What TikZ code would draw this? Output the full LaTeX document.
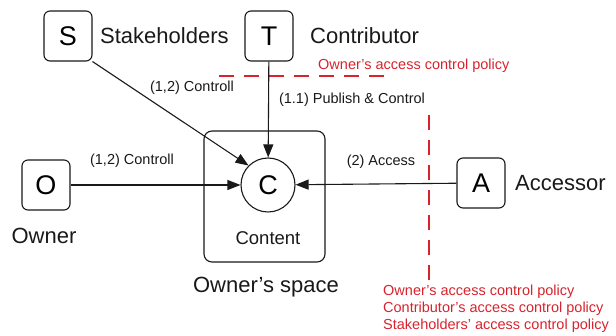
\documentclass[tikz,border=0pt]{standalone}
\usepackage{fontspec}
\setmainfont{Liberation Sans}
\usetikzlibrary{arrows.meta}
\definecolor{polred}{RGB}{215,35,45}
\definecolor{ink}{RGB}{25,25,25}
\begin{document}
\begin{tikzpicture}[x=1pt,y=-1pt,
  letterbox/.style={draw=ink, rounded corners=6pt, minimum width=48pt, minimum height=50pt, line width=1.1pt, inner sep=0pt, font=\fontsize{27}{27}\selectfont},
  bigtext/.style={text=ink, font=\fontsize{22}{24}\selectfont, inner sep=0pt},
  smalltext/.style={text=ink, font=\fontsize{14.5}{16}\selectfont, inner sep=0pt},
  redtext/.style={text=polred, font=\fontsize{14.5}{17}\selectfont, inner sep=0pt, align=left},
  conn/.style={draw=ink, line width=1.1pt, -{Triangle[length=13pt,width=10pt]}},
  policy/.style={draw=polred, line width=1.2pt, dash pattern=on 15pt off 10pt}]
\useasboundingbox (0,0) rectangle (616,336);
% actors
\node[letterbox] (S) at (68,36) {S};
\node[bigtext, anchor=west] (Slabel) at (100,36) {Stakeholders};
\node[letterbox] (T) at (269,36) {T};
\node[bigtext, anchor=west] (Tlabel) at (310,36) {Contributor};
\node[letterbox] (O) at (46,185) {O};
\node[bigtext] (Olabel) at (44,236) {Owner};
\node[letterbox] (A) at (481,183) {A};
\node[bigtext, anchor=west] (Alabel) at (515,183) {Accessor};
% owner's space
\node[draw=ink, rounded corners=8pt, line width=1.1pt, minimum width=121pt, minimum height=131pt, inner sep=0pt] (space) at (264.5,196.5) {};
\node[circle, draw=ink, fill=white, line width=1.1pt, minimum size=54pt, inner sep=0pt, font=\fontsize{27}{27}\selectfont] (C) at (268,185) {C};
\node[text=ink, font=\fontsize{18.5}{20}\selectfont, inner sep=0pt] (Clabel) at (268,238) {Content};
\node[bigtext] (spacelabel) at (266,287) {Owner’s space};
% red policies
\coordinate (h1) at (219,76);
\coordinate (h2) at (385,76);
\draw[policy] (h1) -- (h2);
\node[redtext, anchor=west] (p1) at (318,66) {Owner’s access control policy};
\coordinate (v1) at (429,115);
\coordinate (v2) at (429,280);
\draw[policy] (v1) -- (v2);
\node[redtext, anchor=west] (p2) at (383,309) {Owner’s access control policy\\Contributor’s access control policy\\Stakeholders’ access control policy};
% connectors
\draw[conn] (S.south east) -- (C.135);
\draw[conn] (T) -- (C);
\draw[conn] (O) -- (C);
\draw[conn] (A) -- (C);
% labels
\node[smalltext] (l1) at (192,88) {(1,2) Controll};
\node[smalltext] (l2) at (352,100) {(1.1) Publish \& Control};
\node[smalltext] (l3) at (132,161) {(1,2) Controll};
\node[smalltext] (l4) at (381,162) {(2) Access};
\end{tikzpicture}
\end{document}
